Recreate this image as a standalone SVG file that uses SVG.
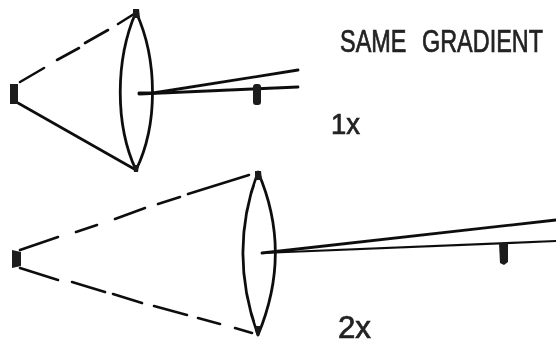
<svg xmlns="http://www.w3.org/2000/svg" width="556" height="345" viewBox="0 0 556 345">
<defs>
<filter id="soft" x="-5%" y="-5%" width="110%" height="110%"><feGaussianBlur stdDeviation="0.55"/></filter>
</defs>
<style>
.ln{fill:none;stroke:#111;stroke-width:2.6;stroke-linecap:round;stroke-linejoin:round}
.lens{stroke-width:2.8}
.ray{stroke-width:2.8}
.thin{stroke-width:2.2}
.blk{fill:#1a1a1a;stroke:none}
text{font-family:"Liberation Sans",Arial,sans-serif;fill:#222;stroke:#222;stroke-width:.7}
</style>
<rect width="556" height="345" fill="#fff"/>
<g filter="url(#soft)">
<g id="connectors">
<path class="ln" d="M20 82L44 68M57 60L79 48M85 43L108 30M118 24L134 14"/>
<path class="ln" d="M18 103L136 170"/>
<path class="ln" d="M20 250L58 237M76 232L97 225M115 219L145 208M158 204L180 197M188 194L249 175"/>
<path class="ln" d="M20 268L58 280M72 282L105 292M113 294L142 303M154 306L187 315M198 318L220 324M235 328L252 333"/>
<path class="ln ray" d="M139 93L153 93L298 70"/>
<path class="ln ray" d="M139 94L298 87"/>
<path class="ln ray" d="M262 253L556 220"/>
<path class="ln thin" d="M262 253L556 241"/>
</g>
<g id="lens-1x">
<path class="ln lens" d="M136 12C115 60 115 125 136 170C158 125 158 60 136 12Z"/>
<path class="blk" d="M133 9L139 9L140 18L133 18ZM133 165L139 165L138 172L134 172Z"/>
</g>
<g id="lens-2x">
<path class="ln lens" d="M258 172C238 225 238 280 258 335C281 280 281 225 258 172Z"/>
<path class="blk" d="M255 171L261 171L262 180L255 180ZM255 326L261 326L259 336L257 336Z"/>
</g>
<g id="object-left-1x"><rect class="blk" x="10" y="84" width="8" height="20"/></g>
<g id="object-right-1x"><rect class="blk" x="253" y="84" width="8" height="21" rx="3"/></g>
<g id="object-left-2x"><path class="blk" d="M12 250L21 252L21 266L12 268Z"/></g>
<g id="object-right-2x"><path class="blk" d="M499 243L508 243L508 262L504 265L500 263Z"/></g>
<g id="label-same-gradient"><text transform="translate(340 52) scale(0.756 1)" font-size="31" word-spacing="12">SAME GRADIENT</text></g>
<g id="label-1x"><text x="331" y="134" font-size="29" textLength="29" lengthAdjust="spacingAndGlyphs">1x</text></g>
<g id="label-2x"><text x="338" y="338" font-size="31" textLength="33" lengthAdjust="spacingAndGlyphs">2x</text></g>
</g>
</svg>
